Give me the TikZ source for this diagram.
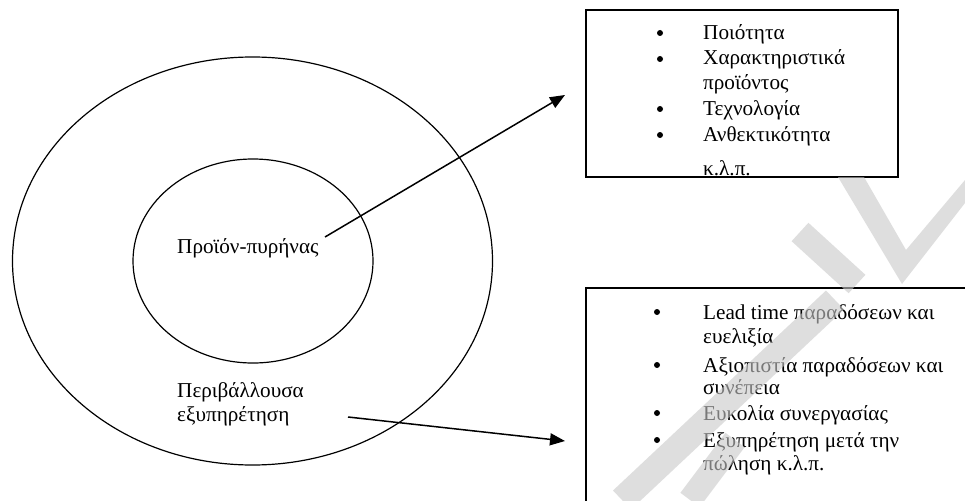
\documentclass[tikz,border=0pt]{standalone}
\usepackage{fontspec}
\setmainfont{Liberation Serif}
\usetikzlibrary{arrows.meta,shapes.geometric}
\begin{document}
\begin{tikzpicture}[x=1pt,y=-1pt,
  ring/.style={draw=black, line width=1.2pt, ellipse, inner sep=0pt},
  lbl/.style={anchor=base west, font=\fontsize{21.2}{25}\selectfont, inner sep=0pt},
  box/.style={draw=black, line width=1.6pt, fill=white, rectangle, inner sep=0pt, anchor=north west},
  edge/.style={draw=black, line width=1.6pt},
  bul/.style={circle, fill=black, inner sep=0pt, minimum size=6pt},
  arr/.style={line width=1.5pt, -{Triangle[length=15pt,width=12pt]}},
  wm/.style={fill=black!21, opacity=0.6, draw=none}
]
\useasboundingbox (0,0) rectangle (965,500);
\clip (0,0) rectangle (965,500);
\fill[white] (0,0) rectangle (965,500);

% circles
\node[ring, minimum width=480pt, minimum height=408pt] (outer) at (252.5,261) {};
\node[ring, minimum width=240pt, minimum height=204pt] (inner) at (253,261) {};

% circle labels
\node[lbl] (core) at (177,253) {Προϊόν-πυρήνας};
\node[lbl] (serv1) at (177,397) {Περιβάλλουσα};
\node[lbl] (serv2) at (177,421) {εξυπηρέτηση};

% boxes
\node[box, minimum width=312pt, minimum height=167pt] (topbox) at (585,9) {};
\node[box, minimum width=420pt, minimum height=240pt] (botbox) at (585,287) {};

% top box items
\node[bul] (b1) at (660,33) {};
\node[lbl] (t1) at (703,40) {Ποιότητα};
\node[bul] (b2) at (660,59) {};
\node[lbl] (t2) at (703,65) {Χαρακτηριστικά};
\node[lbl] (t3) at (703,90) {προϊόντος};
\node[bul] (b3) at (660,109) {};
\node[lbl] (t4) at (703,115) {Τεχνολογία};
\node[bul] (b4) at (660,135) {};
\node[lbl] (t5) at (703,141) {Ανθεκτικότητα};
\node[lbl] (t6) at (703,175) {κ.λ.π.};
\draw[edge] (topbox.south west) -- (topbox.south east);

% bottom box items
\node[bul] (c1) at (657,312) {};
\node[lbl] (s1) at (703,319) {Lead time παραδόσεων και};
\node[lbl] (s2) at (703,343) {ευελιξία};
\node[bul] (c2) at (657,365) {};
\node[lbl] (s3) at (703,372) {Αξιοπιστία παραδόσεων και};
\node[lbl] (s4) at (703,394) {συνέπεια};
\node[bul] (c3) at (657,413) {};
\node[lbl] (s5) at (703,420) {Ευκολία συνεργασίας};
\node[bul] (c4) at (657,440) {};
\node[lbl] (s6) at (703,447) {Εξυπηρέτηση μετά την};
\node[lbl] (s7) at (703,470) {πώληση κ.λ.π.};

% arrows
\coordinate (a1s) at (325,237);
\coordinate (a1e) at (565,95);
\coordinate (a2s) at (348,417);
\coordinate (a2e) at (565,441);
\draw[arr] (a1s) -- (a1e);
\draw[arr] (a2s) -- (a2e);

% watermark fragments
\fill[wm] (838,177) -- (902,284) -- (965,203) -- (965,180) -- (906,250) -- (864,177) -- cycle;
\fill[wm] (808.4,222.8) -- (865.4,274.8) -- (848.6,293.2) -- (791.6,241.2) -- cycle;
\fill[wm] (613,490.5) -- (631,509.5) -- (844,309.5) -- (826,290.5) -- cycle;
\fill[wm] (680.4,492.8) -- (699.6,507.2) -- (744.6,447.2) -- (725.4,432.8) -- cycle;
\end{tikzpicture}
\end{document}
